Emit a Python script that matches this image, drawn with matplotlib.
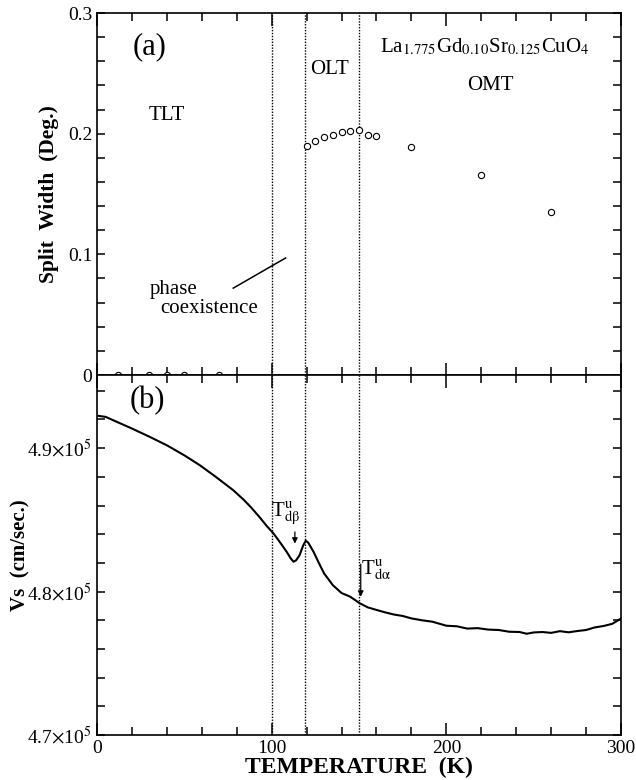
import matplotlib
matplotlib.use("Agg")
from matplotlib import pyplot as plt
from matplotlib.ticker import MultipleLocator

plt.rcParams['font.family'] = ['Liberation Serif', 'DejaVu Serif']
plt.rcParams['mathtext.fontset'] = 'stix'

# panel (a): split width
t_zero = [12, 30, 40, 50, 70]
w_zero = [0, 0, 0, 0, 0]
t_split = [120, 125, 130, 135, 140, 145, 150, 155, 160, 180, 220, 260]
w_split = [0.190, 0.194, 0.197, 0.199, 0.201, 0.202, 0.203, 0.199, 0.198, 0.189, 0.166, 0.135]

# panel (b): sound velocity
t_vs = [1, 5, 12, 20, 30, 40, 50, 59, 68, 78, 84, 88, 93, 97, 101, 105, 108.6,
        111, 112.5, 114, 116, 118, 119.5, 121, 124, 127, 130, 135, 140, 145, 150.5,
        155, 160, 165, 170, 175, 180, 186, 192, 200, 206, 212, 218, 224, 230,
        236, 242, 246, 250, 255, 260, 265, 270, 275, 280, 285, 290, 295, 300]
vs = [4.9225, 4.9218, 4.918, 4.9137, 4.908, 4.902, 4.895, 4.888, 4.880, 4.8707,
      4.864, 4.859, 4.852, 4.846, 4.8406, 4.834, 4.8277, 4.823, 4.8208, 4.8218,
      4.8254, 4.832, 4.8355, 4.834, 4.8277, 4.820, 4.8127, 4.8045, 4.799, 4.7964,
      4.7918, 4.7890, 4.7872, 4.7855, 4.7840, 4.7830, 4.7813, 4.7800, 4.7790,
      4.7762, 4.7758, 4.7742, 4.7745, 4.7735, 4.7732, 4.7720, 4.7718, 4.7706,
      4.7715, 4.7718, 4.7712, 4.7724, 4.7716, 4.7725, 4.7732, 4.7750, 4.7760,
      4.7775, 4.7812]
vs = [v * 1e5 for v in vs]

t_lines = [100, 119, 150]
x_ticks = [0, 100, 200, 300]
vs_ticks = [4.7e5, 4.8e5, 4.9e5]
vs_labels = [r'4.7$\times$10$^5$', r'4.8$\times$10$^5$', r'4.9$\times$10$^5$']

fig = plt.figure(figsize=(6.36, 7.8), dpi=100)
ax1 = fig.add_axes([0.1525, 0.5192, 0.8239, 0.4641])
ax2 = fig.add_axes([0.1525, 0.0577, 0.8239, 0.4615])

for ax in (ax1, ax2):
    ax.set_xlim(0, 300)
    ax.xaxis.set_major_locator(MultipleLocator(100))
    ax.xaxis.set_minor_locator(MultipleLocator(20))
    ax.tick_params(which='both', direction='in', top=True, right=True,
                   labelsize=14, width=1.1)
    ax.tick_params(which='major', length=9)
    ax.tick_params(which='minor', length=6)
    for s in ax.spines.values():
        s.set_linewidth(1.2)
    for t in t_lines:
        ax.axvline(t, color='black', ls=(0, (1, 1.1)), lw=1.0)

# top panel
ax1.plot(t_zero, w_zero, 'o', mfc='white', mec='black', ms=4.5, mew=0.8, clip_on=False)
ax1.plot(t_split, w_split, 'o', mfc='white', mec='black', ms=4.5, mew=0.8)
ax1.set_ylim(0, 0.3)
ax1.yaxis.set_major_locator(MultipleLocator(0.1))
ax1.yaxis.set_minor_locator(MultipleLocator(0.02))
ax1.tick_params(which='both', axis='y', length=6)
ax1.set_yticks([0, 0.1, 0.2, 0.3])
ax1.set_yticklabels(['0', '0.1', '0.2', '0.3'])
ax1.tick_params(labelbottom=False)
ax1.set_ylabel('Split  Width  (Deg.)', fontsize=15.5, fontweight='bold', labelpad=6)

ax1.text(30, 0.272, '(a)', fontsize=22, ha='center', va='center')
ax1.text(40, 0.215, 'TLT', fontsize=15, ha='center', va='center')
ax1.text(133, 0.253, 'OLT', fontsize=15, ha='center', va='center')
ax1.text(222, 0.272, r'La$_{1.775}$Gd$_{0.10}$Sr$_{0.125}$CuO$_4$', fontsize=15,
         ha='center', va='center')
ax1.text(225, 0.240, 'OMT', fontsize=15, ha='center', va='center')
ax1.text(30, 0.0705, 'phase', fontsize=15, ha='left', va='center')
ax1.text(36, 0.0555, 'coexistence', fontsize=15, ha='left', va='center')
ax1.plot([78, 108], [0.072, 0.097], color='black', lw=1.1)

# bottom panel
ax2.plot(t_vs, vs, color='black', lw=1.5)
ax2.set_ylim(4.7e5, 4.951e5)
ax2.set_yticks(vs_ticks)
ax2.set_yticklabels(vs_labels)
ax2.yaxis.set_minor_locator(MultipleLocator(0.02e5))
ax2.tick_params(which='both', axis='y', length=6)
ax2.set_xticks(x_ticks)
ax2.set_ylabel('Vs  (cm/sec.)', fontsize=15, fontweight='bold', labelpad=-2)
ax2.set_xlabel('TEMPERATURE  (K)', fontsize=17, fontweight='bold', labelpad=0)

ax2.text(29, 4.9334e5, '(b)', fontsize=22, ha='center', va='center')
ax2.text(108, 4.8547e5, r'T$^{\rm u}_{\rm d\beta}$', fontsize=15, ha='center', va='center')
ax2.annotate('', xy=(113.3, 4.8315e5), xytext=(113.3, 4.8435e5),
             arrowprops=dict(arrowstyle='-|>', color='black', lw=0.9,
                             mutation_scale=8))
ax2.text(160, 4.8150e5, r'T$^{\rm u}_{\rm d\alpha}$', fontsize=15, ha='center', va='center')
ax2.annotate('', xy=(151, 4.7945e5), xytext=(151, 4.8210e5),
             arrowprops=dict(arrowstyle='-|>', color='black', lw=0.9,
                             mutation_scale=8))

fig.savefig('out.png', dpi=100)
